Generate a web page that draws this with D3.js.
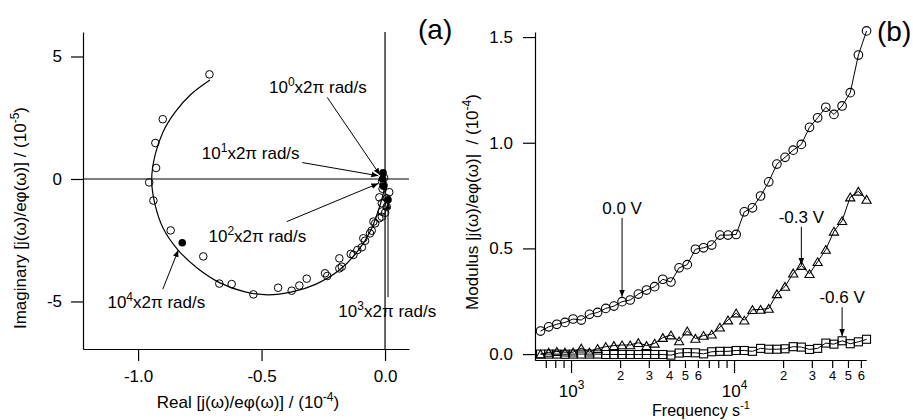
<!DOCTYPE html>
<html>
<head>
<meta charset="utf-8">
<script src="https://cdn.jsdelivr.net/npm/d3@7"></script>
<style>
body { margin: 0; background: #fff; }
svg { font-family: "Liberation Sans", Arial, sans-serif; }
</style>
</head>
<body>
<div id="chart"></div>
<script>
// ---- panel (a): Nyquist plot, real in 10^-4, imaginary in 10^-5
var nyqRe = [-0.711, -0.900, -0.930, -0.927, -0.955, -0.938, -0.868, -0.736, -0.671, -0.621, -0.533, -0.433,
  -0.378, -0.347, -0.317, -0.234, -0.243, -0.185, -0.175, -0.185, -0.139, -0.128, -0.112, -0.094, -0.081,
  -0.088, -0.061, -0.054, -0.040, -0.047, -0.023, -0.013, 0.000, -0.013, 0.007, -0.013, 0.007, -0.023,
  0.017, -0.010, -0.006, -0.012, -0.004];
var nyqIm = [4.27, 2.44, 1.47, 0.45, -0.14, -0.88, -2.10, -3.16, -4.27, -4.29, -4.71, -4.44,
  -4.56, -4.35, -4.07, -3.96, -3.85, -3.65, -3.58, -3.24, -3.06, -3.10, -2.90, -2.79, -2.52,
  -2.42, -2.22, -2.11, -1.81, -1.74, -1.60, -1.54, -1.38, -1.33, -1.13, -0.99, -0.79, -0.75,
  -0.54, -0.40, -0.25, -0.10, 0.05];

// fitted curve
var fitRe = [-0.709, -0.789, -0.850, -0.899, -0.931, -0.945, -0.931, -0.899, -0.838, -0.761, -0.668,
  -0.567, -0.474, -0.377, -0.279, -0.190, -0.113, -0.057, -0.020, -0.004, 0.000];
var fitIm = [4.04, 3.43, 2.73, 1.92, 0.98, -0.04, -1.06, -2.00, -2.90, -3.63, -4.24,
  -4.61, -4.73, -4.61, -4.29, -3.76, -2.98, -2.08, -1.06, -0.45, 0.00];

// filled points at 10^0 ... 10^4 x 2pi rad/s
var decadeRe = [-0.008, -0.010, -0.006, 0.012, -0.821];
var decadeIm = [0.25, 0.00, -0.30, -0.85, -2.60];

var xTicksA = [-1.0, -0.5, 0.0];
var yTicksA = [-5, 0, 5];

// ---- panel (b): modulus vs frequency
var freq = [650, 729, 818, 918, 1030, 1156, 1297, 1455, 1633, 1832, 2056, 2306, 2588, 2904, 3258, 3655,
  4101, 4602, 5164, 5794, 6500, 7293, 8183, 9181, 10301, 11558, 12968, 14550, 16326, 18318, 20555,
  23063, 25877, 29035, 32578, 36553, 41014, 46019, 51635, 57935, 65000];
var mod00 = [0.109, 0.129, 0.141, 0.150, 0.166, 0.161, 0.188, 0.197, 0.216, 0.227, 0.248, 0.256, 0.284,
  0.303, 0.319, 0.354, 0.341, 0.408, 0.423, 0.496, 0.503, 0.516, 0.563, 0.563, 0.566, 0.673, 0.692,
  0.748, 0.815, 0.899, 0.931, 0.965, 0.992, 1.073, 1.118, 1.168, 1.134, 1.174, 1.237, 1.415, 1.529];
var mod03 = [0.000, 0.008, 0.012, 0.009, 0.009, 0.028, 0.009, 0.026, 0.035, 0.040, 0.043, 0.043, 0.054,
  0.040, 0.051, 0.078, 0.090, 0.062, 0.109, 0.074, 0.088, 0.094, 0.127, 0.161, 0.194, 0.160, 0.210,
  0.211, 0.216, 0.285, 0.320, 0.383, 0.419, 0.380, 0.437, 0.495, 0.581, 0.631, 0.743, 0.770, 0.732];
var mod06 = [0.000, 0.000, 0.000, -0.001, 0.000, 0.000, 0.000, 0.000, -0.002, -0.002, -0.002, -0.002,
  -0.002, -0.002, -0.002, -0.002, -0.005, 0.005, 0.007, 0.006, 0.001, 0.011, 0.013, 0.013, 0.017,
  0.017, 0.013, 0.027, 0.023, 0.023, 0.025, 0.035, 0.033, 0.022, 0.027, 0.052, 0.047, 0.063, 0.049,
  0.058, 0.070];

var yTicksB = [0.0, 0.5, 1.0, 1.5];
var minorTicksB = [700, 800, 900, 2000, 3000, 4000, 5000, 6000, 7000, 8000, 9000,
  20000, 30000, 40000, 50000, 60000];
var majorTicksB = [1000, 10000];

// annotations, anchored in data units
var notesA = [
  {exp: "0", tx: -0.470, ty: 3.51, x1: -0.234, y1: 3.33, x2: -0.020, y2: 0.16},
  {exp: "1", tx: -0.742, ty: 0.82, x1: -0.335, y1: 0.67, x2: -0.027, y2: 0.13},
  {exp: "2", tx: -0.715, ty: -2.56, x1: -0.398, y1: -1.74, x2: -0.027, y2: -0.18},
  {exp: "3", tx: -0.189, ty: -5.62, x1: 0.012, y1: -4.82, x2: 0.012, y2: -0.95},
  {exp: "4", tx: -1.124, ty: -5.28, x1: -0.900, y1: -4.50, x2: -0.837, y2: -2.90}
];
var notesB = [
  {label: "0.0 V", f: 2056, ty: 0.663, y1: 0.644, y2: 0.271},
  {label: "-0.3 V", f: 25877, ty: 0.621, y1: 0.602, y2: 0.421},
  {label: "-0.6 V", f: 46019, ty: 0.240, y1: 0.222, y2: 0.085}
];

var svg = d3.select("#chart").append("svg")
  .attr("width", 913)
  .attr("height", 420);

svg.append("defs").append("marker")
  .attr("id", "arrow")
  .attr("viewBox", "0 0 10 10")
  .attr("refX", 10).attr("refY", 5)
  .attr("markerWidth", 7).attr("markerHeight", 7)
  .attr("markerUnits", "userSpaceOnUse")
  .attr("orient", "auto")
  .append("path")
  .attr("d", "M0,1L10,5L0,9Z")
  .attr("fill", "#000");

function styleAxis(g, fs) {
  g.selectAll("path, line").attr("stroke", "#000").attr("stroke-width", 1.2);
  g.selectAll("text").attr("fill", "#000").attr("font-size", fs)
    .attr("font-family", "Liberation Sans, Arial, sans-serif");
}

// superscript helper
function supText(sel, base, sup, tail, fs, sfs, up) {
  sel.append("tspan").text(base);
  sel.append("tspan").attr("dy", -up).attr("font-size", sfs).text(sup);
  if (tail) sel.append("tspan").attr("dy", up).text(tail);
}

// ================= panel (a) =================
var xA = d3.scaleLinear().domain([-1.223, 0.097]).range([83, 409]);
var yA = d3.scaleLinear().domain([-6.94, 6.0]).range([349, 32]);

// zero lines
svg.append("line")
  .attr("x1", xA(0)).attr("x2", xA(0))
  .attr("y1", yA(6.0)).attr("y2", yA(-6.94))
  .attr("stroke", "#000").attr("stroke-width", 1.2);
svg.append("line")
  .attr("x1", xA(-1.223)).attr("x2", xA(0.097))
  .attr("y1", yA(0)).attr("y2", yA(0))
  .attr("stroke", "#000").attr("stroke-width", 1.2);

var axA = svg.append("g").attr("transform", "translate(0,349)")
  .call(d3.axisBottom(xA).tickValues(xTicksA).tickSize(12).tickSizeOuter(0).tickPadding(9)
    .tickFormat(function(d) { return d.toFixed(1); }));
styleAxis(axA, 17);
var ayA = svg.append("g").attr("transform", "translate(83,0)")
  .call(d3.axisLeft(yA).tickValues(yTicksA).tickSize(12).tickSizeOuter(0).tickPadding(9)
    .tickFormat(function(d) { return String(d); }));
styleAxis(ayA, 17);

// fit curve
var fitLine = d3.line()
  .x(function(d) { return xA(fitRe[d]); })
  .y(function(d) { return yA(fitIm[d]); })
  .curve(d3.curveCatmullRom);
svg.append("path")
  .attr("d", fitLine(d3.range(fitRe.length)))
  .attr("fill", "none").attr("stroke", "#000").attr("stroke-width", 1.2);

svg.append("g").selectAll("circle")
  .data(d3.range(nyqRe.length))
  .enter().append("circle")
  .attr("cx", function(i) { return xA(nyqRe[i]); })
  .attr("cy", function(i) { return yA(nyqIm[i]); })
  .attr("r", 3.8)
  .attr("fill", "none").attr("stroke", "#000").attr("stroke-width", 1);

svg.append("g").selectAll("circle")
  .data(d3.range(decadeRe.length))
  .enter().append("circle")
  .attr("cx", function(i) { return xA(decadeRe[i]); })
  .attr("cy", function(i) { return yA(decadeIm[i]); })
  .attr("r", 3.8)
  .attr("fill", "#000");

notesA.forEach(function(n) {
  svg.append("line")
    .attr("x1", xA(n.x1)).attr("y1", yA(n.y1))
    .attr("x2", xA(n.x2)).attr("y2", yA(n.y2))
    .attr("stroke", "#000").attr("stroke-width", 1)
    .attr("marker-end", "url(#arrow)");
  var t = svg.append("text")
    .attr("x", xA(n.tx)).attr("y", yA(n.ty))
    .attr("font-size", 17);
  supText(t, "10", n.exp, "x2\u03c0 rad/s", 17, 12, 7);
});

// axis titles (a)
var tA = svg.append("text")
  .attr("x", 248).attr("y", 408)
  .attr("text-anchor", "middle").attr("font-size", 17);
supText(tA, "Real [j(\u03c9)/e\u03c6(\u03c9)] / (10", "-4", ")", 17, 12, 7);

var tyA = svg.append("text")
  .attr("transform", "translate(26,218) rotate(-90)")
  .attr("text-anchor", "middle").attr("font-size", 17);
supText(tyA, "Imaginary [j(\u03c9)/e\u03c6(\u03c9)] / (10", "-5", ")", 17, 12, 7);

svg.append("text").attr("x", 418).attr("y", 39)
  .attr("font-size", 28).text("(a)");

// ================= panel (b) =================
var xB = d3.scaleLog().domain([601, 64500]).range([535, 866]);
var yB = d3.scaleLinear().domain([-0.028, 1.524]).range([360, 32]);

var axMinor = svg.append("g").attr("transform", "translate(0,360)")
  .call(d3.axisBottom(xB).tickValues(minorTicksB).tickSize(8).tickSizeOuter(0).tickPadding(3)
    .tickFormat(function(d) {
      var m = Math.round(d / Math.pow(10, Math.floor(Math.log10(d))));
      return (m >= 2 && m <= 6) ? String(m) : "";
    }));
styleAxis(axMinor, 13);

var axMajor = svg.append("g").attr("transform", "translate(0,360)")
  .call(d3.axisBottom(xB).tickValues(majorTicksB).tickSize(13).tickSizeOuter(0)
    .tickFormat(""));
styleAxis(axMajor, 17);
axMajor.selectAll(".tick").each(function(d) {
  var t = d3.select(this).append("text")
    .attr("y", 37).attr("text-anchor", "middle")
    .attr("fill", "#000").attr("font-size", 17);
  supText(t, "10", String(Math.round(Math.log10(d))), null, 17, 12, 8);
});

var ayB = svg.append("g").attr("transform", "translate(535,0)")
  .call(d3.axisLeft(yB).tickValues(yTicksB).tickSize(12).tickSizeOuter(0).tickPadding(10)
    .tickFormat(function(d) { return d.toFixed(1); }));
styleAxis(ayB, 17);

function seriesLine(vals) {
  return d3.line()
    .x(function(i) { return xB(freq[i]); })
    .y(function(i) { return yB(vals[i]); })(d3.range(freq.length));
}

[mod06, mod03, mod00].forEach(function(vals) {
  svg.append("path")
    .attr("d", seriesLine(vals))
    .attr("fill", "none").attr("stroke", "#000").attr("stroke-width", 1);
});

// circles: 0.0 V
svg.append("g").selectAll("circle")
  .data(d3.range(freq.length)).enter().append("circle")
  .attr("cx", function(i) { return xB(freq[i]); })
  .attr("cy", function(i) { return yB(mod00[i]); })
  .attr("r", 4.3)
  .attr("fill", "none").attr("stroke", "#000").attr("stroke-width", 1.1);

// triangles: -0.3 V
svg.append("g").selectAll("path")
  .data(d3.range(freq.length)).enter().append("path")
  .attr("transform", function(i) { return "translate(" + xB(freq[i]) + "," + yB(mod03[i]) + ")"; })
  .attr("d", "M0,-4L4.6,3.8L-4.6,3.8Z")
  .attr("fill", "none").attr("stroke", "#000").attr("stroke-width", 1.1);

// squares: -0.6 V
svg.append("g").selectAll("rect")
  .data(d3.range(freq.length)).enter().append("rect")
  .attr("x", function(i) { return xB(freq[i]) - 4; })
  .attr("y", function(i) { return yB(mod06[i]) - 4; })
  .attr("width", 8).attr("height", 8)
  .attr("fill", "none").attr("stroke", "#000").attr("stroke-width", 1.1);

notesB.forEach(function(n) {
  svg.append("line")
    .attr("x1", xB(n.f)).attr("y1", yB(n.y1))
    .attr("x2", xB(n.f)).attr("y2", yB(n.y2))
    .attr("stroke", "#000").attr("stroke-width", 1)
    .attr("marker-end", "url(#arrow)");
  svg.append("text")
    .attr("x", xB(n.f)).attr("y", yB(n.ty))
    .attr("text-anchor", "middle").attr("font-size", 17)
    .text(n.label);
});

var tB = svg.append("text")
  .attr("x", 701).attr("y", 416)
  .attr("text-anchor", "middle").attr("font-size", 16);
supText(tB, "Frequency s", "-1", null, 16, 11, 7);

var tyB = svg.append("text")
  .attr("transform", "translate(478,202) rotate(-90)")
  .attr("text-anchor", "middle").attr("font-size", 17)
  .style("white-space", "pre");
supText(tyB, "Modulus |j(\u03c9)/e\u03c6(\u03c9)|  / (10", "-4", ")", 17, 12, 7);

svg.append("text").attr("x", 877).attr("y", 41)
  .attr("font-size", 28).text("(b)");
</script>
</body>
</html>
